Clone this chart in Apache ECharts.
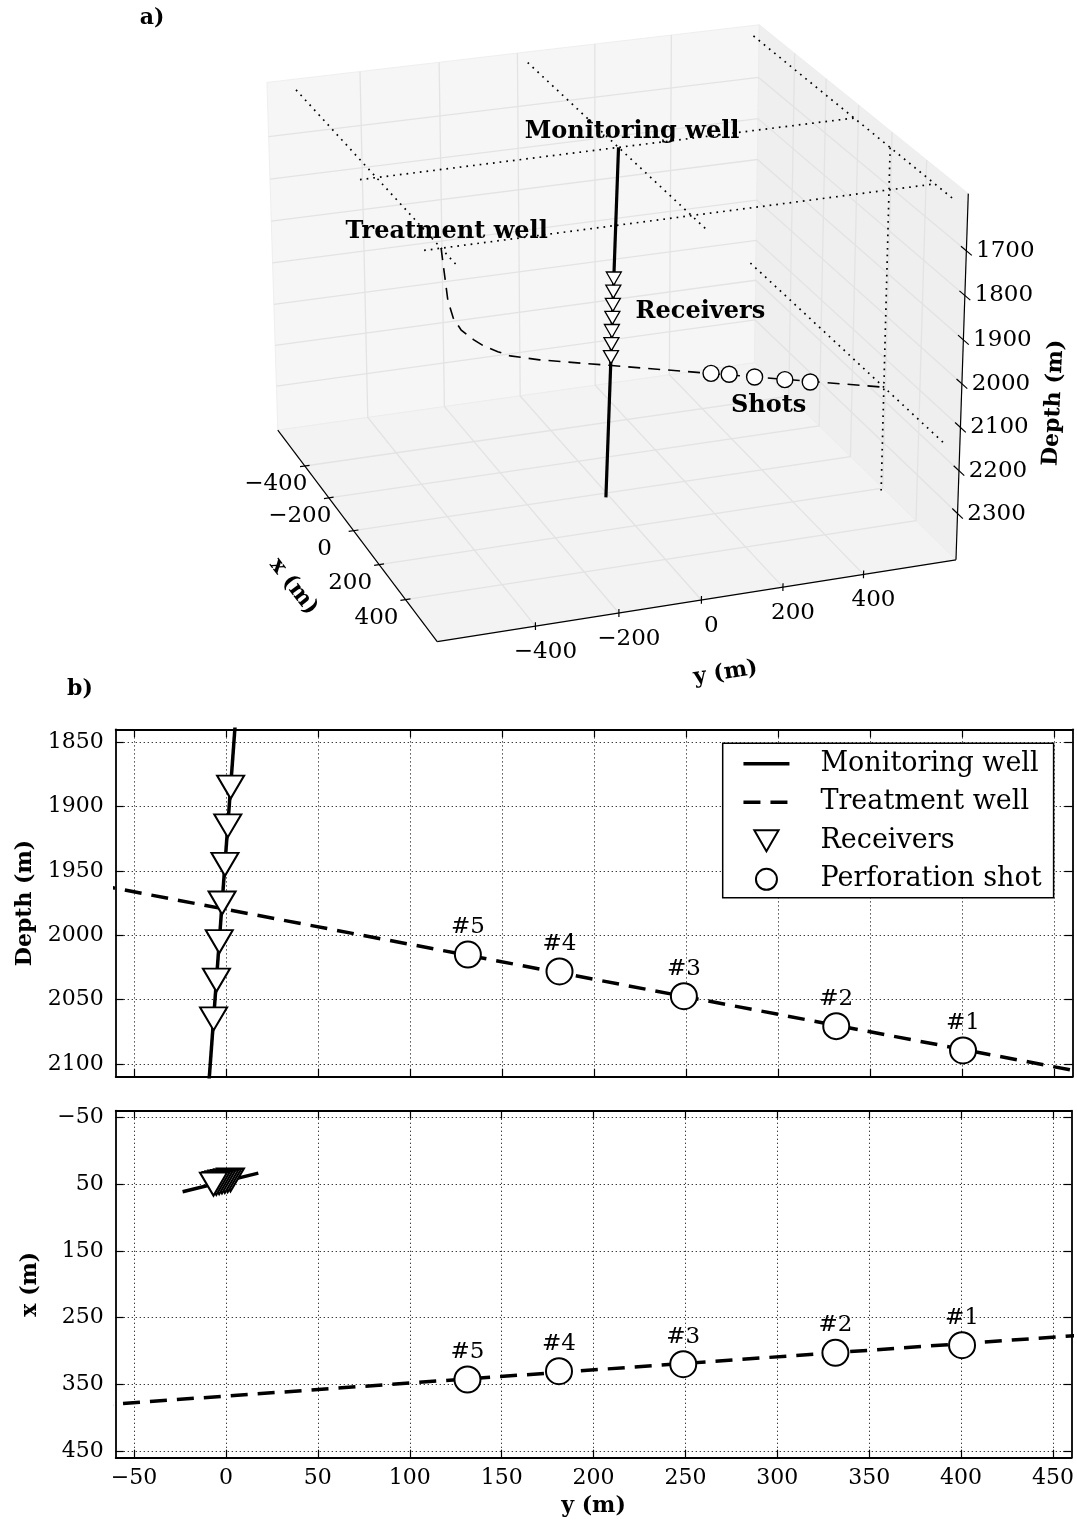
<!DOCTYPE html>
<html><head><meta charset="utf-8">
<script src="https://cdn.jsdelivr.net/npm/echarts@6/dist/echarts.min.js"></script>
<style>html,body{margin:0;padding:0;background:#fff}#c{width:1077px;height:1525px}</style>
</head><body><div id="c"></div><script>
// ================= DATA (metres) =================
// well trajectories and points: [x, y, depth]
const monitoringWell = [[33.5, 17.6, 1590], [61.5, -23.6, 2392]];
const receivers = [
  [43.8, 2.45, 1885], [44.8, 0.91, 1915], [45.9, -0.63, 1945], [46.9, -2.18, 1975],
  [48.0, -3.72, 2005], [49.0, -5.26, 2035], [50.1, -6.80, 2065]
];
const treatmentWell = [
  [505, -568, 1590], [504, -554, 1705], [501, -541, 1747], [495, -521, 1778],
  [486, -490, 1806], [476, -462, 1828], [464, -426, 1849], [452, -393, 1867],
  [429.6, -316, 1894], [248.6, 607, 2145]
];
const shotLabels = ['#1', '#2', '#3', '#4', '#5'];
const shots = [
  [291.4, 400.5, 2089.6], [302.9, 331.6, 2070.7], [319.9, 248.8, 2047.4],
  [330.4, 181.2, 2028.2], [342.8, 131.4, 2015.1]
];
// dotted reference lines in panel a (pairs of [x, y, depth])
const refLines = [
  [[-607, -568, 1590], [607, -568, 1590]],
  [[505, -607, 1590], [505, 607, 1590]],
  [[-607, 17.6, 1590], [607, 17.6, 1590]],
  [[33.5, -607, 1590], [33.5, 607, 1590]],
  [[-607, 607, 1590], [607, 607, 1590]],
  [[-607, 607, 2145], [607, 607, 2145]],
  [[248.6, 607, 1590], [248.6, 607, 2392]]
];
// axis limits / ticks
const lim3dX = [-607, 607], lim3dY = [-607, 607], lim3dDepth = [1590, 2392];
const ticks3dXY = [-400, -200, 0, 200, 400];
const ticks3dDepth = [1700, 1800, 1900, 2000, 2100, 2200, 2300];
const ticksYm = [-50, 0, 50, 100, 150, 200, 250, 300, 350, 400, 450];
const ticksDepth2d = [1850, 1900, 1950, 2000, 2050, 2100];
const ticksXm = [-50, 50, 150, 250, 350, 450];
const limYm = [-60, 460], limDepth2d = [1840, 2110], limXm = [-60, 460];

// ================= STYLE / LAYOUT =================
const FONT = "'DejaVu Serif', serif";
const minus = v => (v < 0 ? '\u2212' + Math.abs(v) : String(v));
const VIEW3D = {elev: 23, azim: -20, dist: 10, aspect: [4, 4, 3]};
const SCREEN3D = {left: 0, top: 0, width: 1077, height: 690, cx: 606.4, cy: 317.6, sx: 4703, sy: 4520};

// ---------- matplotlib-like 3D projection ----------
const aspN = Math.hypot.apply(null, VIEW3D.aspect);
const ASP = VIEW3D.aspect.map(a => a * 1.8294640721620434 / aspN);
const padBox = l => { const r = l[1] - l[0]; return [l[0] - r / 48, l[1] + r / 48]; };
const BX = padBox(lim3dX), BY = padBox(lim3dY), BD = padBox(lim3dDepth);
const EL = VIEW3D.elev * Math.PI / 180, AZ = VIEW3D.azim * Math.PI / 180;
const UU = [-Math.sin(AZ), Math.cos(AZ), 0];
const VV = [-Math.sin(EL) * Math.cos(AZ), -Math.sin(EL) * Math.sin(AZ), Math.cos(EL)];
const NN = [Math.cos(EL) * Math.cos(AZ), Math.cos(EL) * Math.sin(AZ), Math.sin(EL)];
function proj(pt) {
  const p = [((pt[0] - BX[0]) / (BX[1] - BX[0]) - 0.5) * ASP[0],
             ((pt[1] - BY[0]) / (BY[1] - BY[0]) - 0.5) * ASP[1],
             ((BD[1] - pt[2]) / (BD[1] - BD[0]) - 0.5) * ASP[2]];
  const dot = a => a[0] * p[0] + a[1] * p[1] + a[2] * p[2];
  const w = VIEW3D.dist - dot(NN);
  return [dot(UU) / w, dot(VV) / w];
}
const pts3d = (arr, api) => arr.map(p => api.coord(proj(p)));

// box construction from limits
const PANES = [
  {fill: '#f6f6f6', pts: [[BX[0], BY[0], BD[0]], [BX[0], BY[1], BD[0]], [BX[0], BY[1], BD[1]], [BX[0], BY[0], BD[1]]]},
  {fill: '#efefef', pts: [[BX[0], BY[1], BD[0]], [BX[1], BY[1], BD[0]], [BX[1], BY[1], BD[1]], [BX[0], BY[1], BD[1]]]},
  {fill: '#f3f3f3', pts: [[BX[0], BY[0], BD[1]], [BX[1], BY[0], BD[1]], [BX[1], BY[1], BD[1]], [BX[0], BY[1], BD[1]]]}
];
const GRID3D = [];
ticks3dXY.forEach(x => GRID3D.push([[x, BY[0], BD[1]], [x, BY[1], BD[1]], [x, BY[1], BD[0]]]));
ticks3dXY.forEach(y => GRID3D.push([[BX[1], y, BD[1]], [BX[0], y, BD[1]], [BX[0], y, BD[0]]]));
ticks3dDepth.forEach(d => GRID3D.push([[BX[0], BY[0], d], [BX[0], BY[1], d], [BX[1], BY[1], d]]));
const AXES3D = [
  [[BX[0], BY[0], BD[1]], [BX[1], BY[0], BD[1]]],
  [[BX[1], BY[0], BD[1]], [BX[1], BY[1], BD[1]]],
  [[BX[1], BY[1], BD[1]], [BX[1], BY[1], BD[0]]]
];
ticks3dXY.forEach(x => AXES3D.push([[x, BY[0] - 12, BD[1]], [x, BY[0] + 12, BD[1]]]));
ticks3dXY.forEach(y => AXES3D.push([[BX[1], y, BD[1] - 9], [BX[1], y, BD[1] + 9]]));
ticks3dDepth.forEach(d => AXES3D.push([[BX[1] - 30, BY[1], d], [BX[1] + 30, BY[1], d]]));
const TEXT3D = [];
ticks3dXY.forEach(x => TEXT3D.push({pt: [x, BY[0], BD[1]], text: minus(x), dx: -29, dy: 18, size: 23}));
ticks3dXY.forEach(y => TEXT3D.push({pt: [BX[1], y, BD[1]], text: minus(y), dx: 10, dy: 26, size: 23}));
ticks3dDepth.forEach(d => TEXT3D.push({pt: [BX[1], BY[1], d], text: String(d), dx: 39, dy: 0, size: 23}));
TEXT3D.push({pt: [0, BY[0], BD[1]], text: 'x (m)', dx: -60, dy: 56, size: 22, bold: true, rot: -0.913});
TEXT3D.push({pt: [BX[1], 0, BD[1]], text: 'y (m)', dx: 24, dy: 73, size: 22, bold: true, rot: 0.154});
TEXT3D.push({pt: [BX[1], BY[1], 2000], text: 'Depth (m)', dx: 92, dy: 19, size: 22, bold: true, rot: 1.522});
TEXT3D.push({pt: monitoringWell[0], text: 'Monitoring well', dx: 13.5, dy: -16, size: 24, bold: true});
TEXT3D.push({pt: treatmentWell[0], text: 'Treatment well', dx: 5.5, dy: -16, size: 24, bold: true});
TEXT3D.push({pt: receivers[3], text: 'Receivers', dx: 88, dy: -6, size: 24, bold: true});
TEXT3D.push({pt: shots[2], text: 'Shots', dx: 14, dy: 29, size: 24, bold: true});

function c3(name, data, z, renderItem) {
  return {type: 'custom', name, coordinateSystem: 'cartesian2d', xAxisIndex: 0, yAxisIndex: 0,
          data: data.map(() => [0, 0]), z, silent: true, clip: false, renderItem};
}
const series = [];
series.push(c3('panes3d', PANES, 0, (p, api) => ({type: 'polygon',
  shape: {points: pts3d(PANES[p.dataIndex].pts, api)},
  style: {fill: PANES[p.dataIndex].fill, stroke: '#ebebeb', lineWidth: 0.8}})));
series.push(c3('grid3d', GRID3D, 1, (p, api) => ({type: 'polyline',
  shape: {points: pts3d(GRID3D[p.dataIndex], api)}, style: {fill: null, stroke: '#e3e3e3', lineWidth: 1.3}})));
series.push(c3('axes3d', AXES3D, 2, (p, api) => ({type: 'polyline',
  shape: {points: pts3d(AXES3D[p.dataIndex], api)}, style: {fill: null, stroke: '#000', lineWidth: 1.2}})));
series.push(c3('ref3d', refLines, 3, (p, api) => ({type: 'polyline',
  shape: {points: pts3d(refLines[p.dataIndex], api)}, style: {fill: null, stroke: '#000', lineWidth: 1.7, lineDash: [1.7, 5]}})));
series.push(c3('treat3d', [0], 4, (p, api) => ({type: 'polyline',
  shape: {points: pts3d(treatmentWell, api)}, style: {fill: null, stroke: '#000', lineWidth: 1.6, lineDash: [12, 8]}})));
series.push(c3('mon3d', [0], 5, (p, api) => ({type: 'polyline',
  shape: {points: pts3d(monitoringWell, api)}, style: {fill: null, stroke: '#000', lineWidth: 3.2}})));
series.push(c3('rec3d', receivers, 6, (p, api) => {
  const c = api.coord(proj(receivers[p.dataIndex]));
  return {type: 'polygon', shape: {points: [[c[0] - 7.5, c[1] - 6.5], [c[0] + 7.5, c[1] - 6.5], [c[0], c[1] + 6.5]]},
          style: {fill: '#fff', stroke: '#000', lineWidth: 1.3}};
}));
series.push(c3('shots3d', shots, 7, (p, api) => {
  const c = api.coord(proj(shots[p.dataIndex]));
  return {type: 'circle', shape: {cx: c[0], cy: c[1], r: 8}, style: {fill: '#fff', stroke: '#000', lineWidth: 1.4}};
}));
series.push(c3('text3d', TEXT3D, 8, (p, api) => {
  const t = TEXT3D[p.dataIndex];
  const c = api.coord(proj(t.pt));
  return {type: 'text', x: c[0] + t.dx, y: c[1] + t.dy, rotation: t.rot || 0,
          style: {text: t.text, fill: '#000', fontFamily: FONT, fontSize: t.size,
                  fontWeight: t.bold ? 'bold' : 'normal', align: 'center', verticalAlign: 'middle'}};
}));

// ---------- panel b ----------
const triPath = 'path://M0,0L20,0L10,17.3Z';
const gridLine = {show: true, lineStyle: {color: '#222', width: 1, type: [1.2, 2.8]}};
const lblStyle = {color: '#000', fontFamily: FONT, fontSize: 22};
function ax(o) {
  const base = {type: 'value', axisLine: {show: true, onZero: false, lineStyle: {color: '#000', width: 1.8}},
    axisTick: {show: true, inside: true, length: 8, lineStyle: {color: '#000', width: 1.2}, customValues: o.ticks},
    axisLabel: o.labels ? Object.assign({show: true, customValues: o.ticks, margin: o.margin, formatter: minus, hideOverlap: false}, lblStyle) : {show: false},
    splitLine: o.split ? gridLine : {show: false}};
  delete o.ticks; delete o.labels; delete o.split; delete o.margin;
  return Object.assign(base, o);
}
const nameStyle = {color: '#000', fontFamily: FONT, fontSize: 22, fontWeight: 'bold'};
const xAxis = [
  {gridIndex: 0, type: 'value', show: false, min: (SCREEN3D.left - SCREEN3D.cx) / SCREEN3D.sx, max: (SCREEN3D.left + SCREEN3D.width - SCREEN3D.cx) / SCREEN3D.sx},
  ax({gridIndex: 1, position: 'bottom', min: limYm[0], max: limYm[1], ticks: ticksYm, split: true}),
  ax({gridIndex: 1, position: 'top', min: limYm[0], max: limYm[1], ticks: ticksYm}),
  ax({gridIndex: 2, position: 'bottom', min: limYm[0], max: limYm[1], ticks: ticksYm, split: true, labels: true, margin: 10,
      name: 'y (m)', nameLocation: 'middle', nameGap: 38, nameTextStyle: nameStyle}),
  ax({gridIndex: 2, position: 'top', min: limYm[0], max: limYm[1], ticks: ticksYm})
];
const yAxis = [
  {gridIndex: 0, type: 'value', show: false, min: (SCREEN3D.cy - SCREEN3D.top - SCREEN3D.height) / SCREEN3D.sy, max: (SCREEN3D.cy - SCREEN3D.top) / SCREEN3D.sy},
  ax({gridIndex: 1, position: 'left', inverse: true, min: limDepth2d[0], max: limDepth2d[1], ticks: ticksDepth2d, split: true, labels: true, margin: 12,
      name: 'Depth (m)', nameLocation: 'middle', nameGap: 79, nameTextStyle: nameStyle}),
  ax({gridIndex: 1, position: 'right', inverse: true, min: limDepth2d[0], max: limDepth2d[1], ticks: ticksDepth2d}),
  ax({gridIndex: 2, position: 'left', inverse: true, min: limXm[0], max: limXm[1], ticks: ticksXm, split: true, labels: true, margin: 12,
      name: 'x (m)', nameLocation: 'middle', nameGap: 74, nameTextStyle: nameStyle}),
  ax({gridIndex: 2, position: 'right', inverse: true, min: limXm[0], max: limXm[1], ticks: ticksXm})
];
const noSymbol = {color: 'rgba(0,0,0,0)', borderColor: 'rgba(0,0,0,0)', borderWidth: 0};
// panel b series: top = (y, depth), bottom = (y, x)
[[1, p => [p[1], p[2]]], [2, p => [p[1], p[0]]]].forEach(([gi, f]) => {
  series.push({type: 'line', name: 'Treatment well', xAxisIndex: gi * 2 - 1, yAxisIndex: gi * 2 - 1, data: treatmentWell.map(f),
    symbol: 'none', clip: true, z: 3, itemStyle: noSymbol, lineStyle: {color: '#000', width: 3.5, type: [17, 10]}});
  series.push({type: 'line', name: 'Monitoring well', xAxisIndex: gi * 2 - 1, yAxisIndex: gi * 2 - 1, data: monitoringWell.map(f),
    symbol: 'none', clip: true, z: 4, itemStyle: noSymbol, lineStyle: {color: '#000', width: 3.5}});
  series.push({type: 'scatter', name: 'Receivers', xAxisIndex: gi * 2 - 1, yAxisIndex: gi * 2 - 1, data: receivers.map(f),
    symbol: triPath, symbolSize: [27, 23], z: 5, itemStyle: {color: '#fff', borderColor: '#000', borderWidth: 2, opacity: 1}});
  series.push({type: 'scatter', name: 'Perforation shot', xAxisIndex: gi * 2 - 1, yAxisIndex: gi * 2 - 1, data: shots.map(f),
    symbol: 'circle', symbolSize: 26, z: 6, itemStyle: {color: '#fff', borderColor: '#000', borderWidth: 2, opacity: 1},
    label: {show: true, position: 'top', distance: 2, formatter: q => shotLabels[q.dataIndex], color: '#000', fontFamily: FONT, fontSize: 23}});
});

const option = {
  animation: false,
  backgroundColor: '#fff',
  grid: [
    {left: SCREEN3D.left, top: SCREEN3D.top, width: SCREEN3D.width, height: SCREEN3D.height},
    {left: 115.7, top: 729.3, width: 956.8, height: 347.4},
    {left: 115.7, top: 1110.7, width: 956.8, height: 347}
  ],
  xAxis, yAxis, series,
  legend: {data: [
      {name: 'Monitoring well', itemStyle: {opacity: 0}},
      {name: 'Treatment well', itemStyle: {opacity: 0}},
      'Receivers', 'Perforation shot'],
    orient: 'vertical', left: 722.7, top: 743.3, itemWidth: 46, itemHeight: 21, itemGap: 11.5,
    padding: [7, 12, 5, 19], backgroundColor: '#fff', borderColor: '#000', borderWidth: 1.5, borderRadius: 0,
    selectedMode: false, z: 10,
    lineStyle: {width: 3.5, color: '#000'},
    textStyle: {color: '#000', fontFamily: FONT, fontSize: 27, lineHeight: 26, padding: [0, 0, 0, 26]}},
  graphic: [
    {type: 'text', x: 152, y: 18, style: {text: 'a)', fill: '#000', fontFamily: FONT, fontSize: 22, fontWeight: 'bold', align: 'center', verticalAlign: 'middle'}},
    {type: 'text', x: 80, y: 689, style: {text: 'b)', fill: '#000', fontFamily: FONT, fontSize: 22, fontWeight: 'bold', align: 'center', verticalAlign: 'middle'}}
  ]
};
echarts.init(document.getElementById('c'), null, {renderer: 'canvas'}).setOption(option);
</script></body></html>
